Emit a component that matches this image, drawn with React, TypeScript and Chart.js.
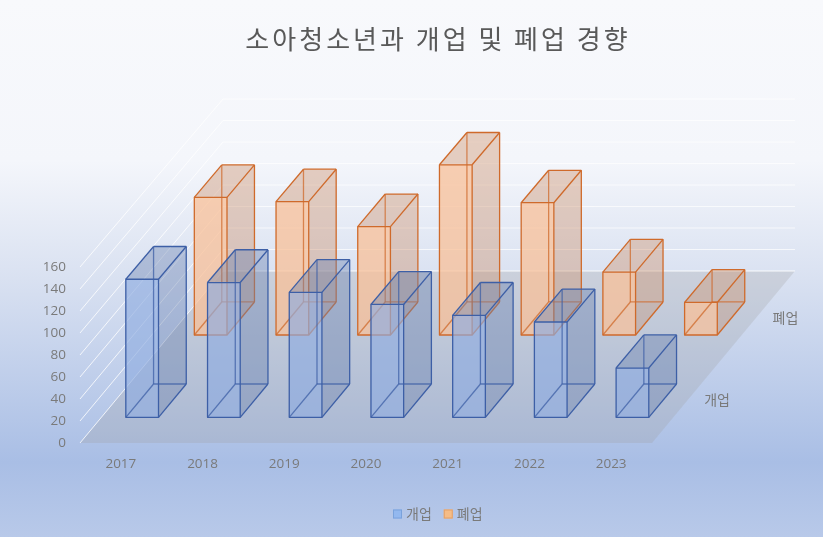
import React, { useEffect, useRef } from 'react';
import { Chart, registerables } from 'chart.js';

Chart.register(...registerables);

const title = '소아청소년과 개업 및 폐업 경향';
const years = ['2017', '2018', '2019', '2020', '2021', '2022', '2023'];
const seriesNames = ['개업', '폐업'];
const openings = [126, 123, 114, 103, 93, 87, 45];
const closures = [127, 123, 100, 157, 122, 58, 30];
const yMax = 160;
const yStep = 20;

// 3D look: depth vector of the floor and where each row sits in it
const DX = 143;
const DY = -172;
const SHRINK = 0.023;
const rows = [
    { t0: 0.149, t1: 0.343 },
    { t0: 0.628, t1: 0.82 },
];
const boxColors = [
    { front: 'rgba(143,172,224,0.62)', side: 'rgba(96,118,166,0.32)', back: 'rgba(143,172,224,0.12)', edge: '#3d5fa6' },
    { front: 'rgba(248,192,154,0.72)', side: 'rgba(196,140,108,0.34)', back: 'rgba(244,177,131,0.12)', edge: '#cf6a2b' },
];
const legendColors = [
    { fill: '#93b8ef', edge: '#7aa2dc' },
    { fill: '#f5bc86', edge: '#e3a067' },
];
const textGray = '#7a7a7a';
const krFont = "'Noto Sans CJK KR', sans-serif";
const numFont = "'Open Sans', 'Noto Sans CJK KR', sans-serif";

type Pt = { x: number; y: number };

const poly = (ctx: CanvasRenderingContext2D, pts: Pt[]) => {
    ctx.beginPath();
    ctx.moveTo(pts[0].x, pts[0].y);
    for (let i = 1; i < pts.length; i++) ctx.lineTo(pts[i].x, pts[i].y);
    ctx.closePath();
};

const line = (ctx: CanvasRenderingContext2D, a: Pt, b: Pt) => {
    ctx.beginPath();
    ctx.moveTo(a.x, a.y);
    ctx.lineTo(b.x, b.y);
    ctx.stroke();
};

const threeD = {
    id: 'threeD',
    beforeDraw(chart: any) {
        const { ctx, width, height } = chart;
        const g = ctx.createLinearGradient(0, 0, 0, height);
        g.addColorStop(0, '#f8f9fc');
        g.addColorStop(0.3, '#f4f6fb');
        g.addColorStop(0.52, '#d9e1f1');
        g.addColorStop(0.86, '#a9bee5');
        g.addColorStop(1, '#b8c9e9');
        ctx.save();
        ctx.fillStyle = g;
        ctx.fillRect(0, 0, width, height);
        ctx.restore();
    },
    beforeDatasetsDraw(chart: any) {
        const { ctx, chartArea, scales } = chart;
        const y = scales.y;
        const base = y.getPixelForValue(0);
        const at = (x: number, v: number, t: number): Pt => ({
            x: x + DX * t,
            y: base + DY * t - (base - y.getPixelForValue(v)) * (1 - SHRINK * t),
        });
        const l = chartArea.left;
        const r = chartArea.right;
        ctx.save();
        // floor
        ctx.fillStyle = 'rgba(160,160,160,0.26)';
        poly(ctx, [at(l, 0, 0), at(r, 0, 0), at(r, 0, 1), at(l, 0, 1)]);
        ctx.fill();
        // wall gridlines
        ctx.lineWidth = 1;
        for (let v = 0; v <= yMax; v += yStep) {
            ctx.strokeStyle = 'rgba(255,255,255,0.8)';
            line(ctx, at(l, v, 0), at(l, v, 1));
            ctx.strokeStyle = v === 0 ? 'rgba(255,255,255,0.9)' : 'rgba(255,255,255,0.7)';
            line(ctx, at(l, v, 1), at(r, v, 1));
        }
        ctx.restore();
    },
    afterDatasetsDraw(chart: any) {
        const { ctx, scales } = chart;
        const base0 = scales.y.getPixelForValue(0);
        ctx.save();
        ctx.lineWidth = 1.3;
        ctx.lineJoin = 'round';
        // back row first so the front row covers it
        for (let d = chart.data.datasets.length - 1; d >= 0; d--) {
            const meta = chart.getDatasetMeta(d);
            const row = rows[d];
            const c = boxColors[d];
            meta.data.forEach((el: any) => {
                const h = el.base - el.y;
                const face = (t: number) => {
                    const bot = base0 + DY * t;
                    const top = bot - h * (1 - SHRINK * t);
                    const xl = el.x - el.width / 2 + DX * t;
                    const xr = el.x + el.width / 2 + DX * t;
                    return { lt: { x: xl, y: top }, rt: { x: xr, y: top }, rb: { x: xr, y: bot }, lb: { x: xl, y: bot } };
                };
                const f = face(row.t0);
                const b = face(row.t1);
                // hidden faces
                ctx.fillStyle = c.back;
                poly(ctx, [b.lt, b.rt, b.rb, b.lb]);
                ctx.fill();
                poly(ctx, [f.lt, b.lt, b.lb, f.lb]);
                ctx.fill();
                // visible faces
                ctx.fillStyle = c.side;
                poly(ctx, [f.rt, b.rt, b.rb, f.rb]);
                ctx.fill();
                poly(ctx, [f.lt, b.lt, b.rt, f.rt]);
                ctx.fill();
                ctx.fillStyle = c.front;
                poly(ctx, [f.lt, f.rt, f.rb, f.lb]);
                ctx.fill();
                // edges
                ctx.strokeStyle = c.edge;
                ctx.globalAlpha = 0.75;
                line(ctx, b.lt, b.lb);
                line(ctx, b.lb, b.rb);
                line(ctx, f.lb, b.lb);
                ctx.globalAlpha = 1;
                poly(ctx, [f.lt, f.rt, f.rb, f.lb]);
                ctx.stroke();
                line(ctx, f.lt, b.lt);
                line(ctx, f.rt, b.rt);
                line(ctx, f.rb, b.rb);
                line(ctx, b.lt, b.rt);
                line(ctx, b.rt, b.rb);
            });
        }
        ctx.restore();
    },
    afterDraw(chart: any) {
        const { ctx, chartArea, scales } = chart;
        const base = scales.y.getPixelForValue(0);
        ctx.save();
        // title
        ctx.fillStyle = '#595959';
        ctx.font = `26px ${krFont}`;
        ctx.textAlign = 'center';
        ctx.textBaseline = 'middle';
        (ctx as any).letterSpacing = '3px';
        ctx.fillText(title, 438, 39);
        (ctx as any).letterSpacing = '0px';
        // series names along the depth axis
        ctx.font = `14px ${krFont}`;
        ctx.fillStyle = textGray;
        ctx.textAlign = 'left';
        rows.forEach((row, i) => {
            const t = (row.t0 + row.t1) / 2;
            ctx.fillText(seriesNames[i], chartArea.right + DX * t + 17, base + DY * t - 1);
        });
        // legend
        let x = 393;
        const ly = 514;
        seriesNames.forEach((name, i) => {
            ctx.fillStyle = legendColors[i].fill;
            ctx.fillRect(x, ly - 4.5, 9, 9);
            ctx.strokeStyle = legendColors[i].edge;
            ctx.lineWidth = 1;
            ctx.strokeRect(x + 0.5, ly - 4, 8, 8);
            ctx.fillStyle = textGray;
            ctx.fillText(name, x + 13, ly);
            x += 13 + ctx.measureText(name).width + 12;
        });
        ctx.restore();
    },
};

const App: React.FC = () => {
    const chartRef = useRef<HTMLCanvasElement>(null);
    const chartInstance = useRef<Chart | null>(null);

    useEffect(() => {
        document.body.style.margin = '0';
        if (!chartRef.current) return;
        if (chartInstance.current) chartInstance.current.destroy();
        const ctx = chartRef.current.getContext('2d');
        if (!ctx) return;

        const tickFont = { family: numFont, size: 13.5 };
        chartInstance.current = new Chart(ctx, {
            type: 'bar',
            data: {
                labels: years,
                datasets: [openings, closures].map((values, i) => ({
                    label: seriesNames[i],
                    data: values,
                    backgroundColor: 'rgba(0,0,0,0)',
                    borderWidth: 0,
                    grouped: false,
                    barPercentage: 0.4,
                    categoryPercentage: 1,
                })),
            },
            options: {
                animation: false,
                responsive: true,
                maintainAspectRatio: false,
                layout: { padding: { top: 267, right: 171, bottom: 0, left: 0 } },
                plugins: {
                    legend: { display: false },
                    title: { display: false },
                    tooltip: { enabled: false },
                },
                scales: {
                    x: {
                        grid: { display: false, drawTicks: false },
                        border: { display: false },
                        ticks: { color: textGray, font: tickFont, padding: 13, maxRotation: 0 },
                        afterFit: (s: any) => { s.height = 94; },
                    },
                    y: {
                        min: 0,
                        max: yMax,
                        grid: { display: false, drawTicks: false },
                        border: { display: false },
                        ticks: { stepSize: yStep, color: textGray, font: tickFont, padding: 14 },
                        afterFit: (s: any) => { s.width = 80; },
                    },
                },
            },
            plugins: [threeD],
        });

        return () => {
            if (chartInstance.current) {
                chartInstance.current.destroy();
                chartInstance.current = null;
            }
        };
    }, []);

    return (
        <div style={{ position: 'fixed', left: 0, top: 0, width: 823, height: 537 }}>
            <canvas ref={chartRef} />
        </div>
    );
};

export default App;
